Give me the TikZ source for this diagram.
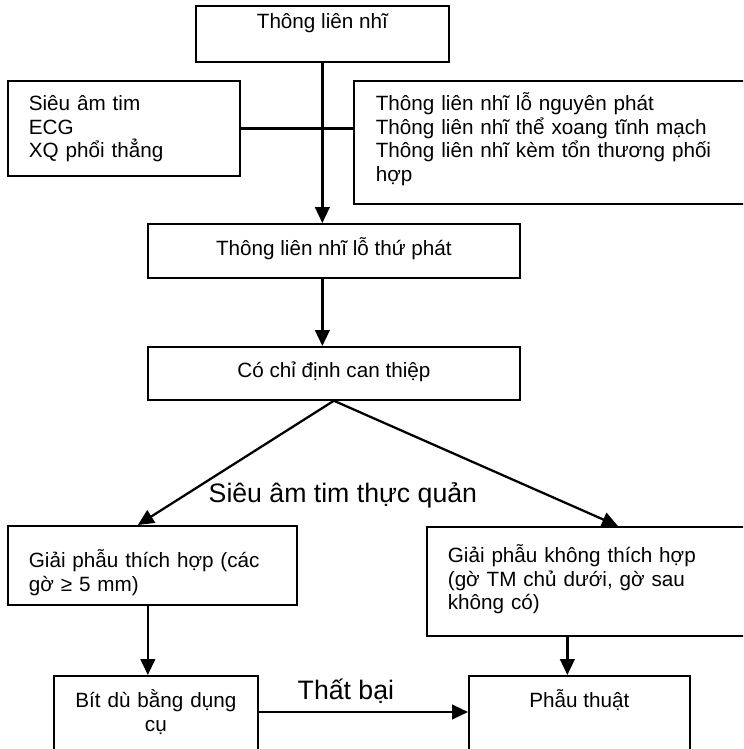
\documentclass[tikz,border=0pt]{standalone}
\usepackage{fontspec}
\setmainfont{Liberation Sans}
\usetikzlibrary{arrows.meta}

\begin{document}
\begin{tikzpicture}[
        x=0.75pt, y=-0.75pt,
        box/.style={draw, line width=1.3pt, inner sep=0pt, anchor=north west,
                    font=\fontsize{15.5}{17.6}\selectfont},
        lbox/.style={box, align=left, inner xsep=16pt, text width=#1},
        cbox/.style={box, align=center, minimum width=#1},
        conn/.style={line width=1.7pt},
        arr/.style={conn, -{Triangle[length=12pt, width=11pt]}},
        tag/.style={anchor=base west, font=\fontsize{20}{24}\selectfont}
    ]
    \useasboundingbox (0,0) rectangle (743,749);
    \clip (0,0) rectangle (743,749);

    \node[cbox=189.75pt, text height=17.25pt, text depth=24.75pt]
        (asd) at (195,5) {Thông liên nhĩ};
    \node[lbox=142.5pt, inner xsep=15.75pt, text height=22.5pt, text depth=48.75pt]
        (exam) at (7,80) {Siêu âm tim\\ECG\\XQ phổi thẳng};
    \node[lbox=282pt, inner xsep=16.5pt, text height=22.5pt, text depth=69.75pt]
        (excl) at (353,80) {Thông liên nhĩ lỗ nguyên phát\\
            Thông liên nhĩ thể xoang tĩnh mạch\\
            Thông liên nhĩ kèm tổn thương phối\\hợp};
    \node[cbox=279pt, text height=24pt, text depth=16.5pt]
        (secundum) at (147,223) {Thông liên nhĩ lỗ thứ phát};
    \node[cbox=279pt, text height=23.25pt, text depth=16.5pt]
        (indic) at (147,346) {Có chỉ định can thiệp};
    \node[lbox=185.25pt, inner xsep=15.75pt, text height=31.5pt, text depth=27.75pt]
        (suitable) at (7,525) {Giải phẫu thích hợp (các\\gờ ≥ 5 mm)};
    \node[lbox=247.5pt, inner xsep=15.75pt, text height=27pt, text depth=54.75pt]
        (unsuitable) at (426,526) {Giải phẫu không thích hợp\\
            (gờ TM chủ dưới, gờ sau\\không có)};
    \node[box, align=center, text width=153pt, text height=24pt, text depth=71.25pt]
        (device) at (53,675) {Bít dù bằng dụng\\cụ};
    \node[cbox=165.75pt, text height=24pt, text depth=71.25pt]
        (surgery) at (468,675) {Phẫu thuật};

    \draw[arr] (asd.south) -- (asd.south |- secundum.north);
    \draw[conn] (exam.east) -- (exam.east -| excl.west);
    \draw[arr] (secundum.south -| asd.south) -- (indic.north -| asd.south);

    \draw[arr] (indic.south) -- ([xshift=-10.9pt]suitable.north);
    \draw[arr] (indic.south) -- ([xshift=144pt]unsuitable.north west);
    \node[tag] (tee) at (204,502) {Siêu âm tim thực quản};

    \coordinate (sdrop) at ([xshift=-3.4pt]suitable.south);
    \draw[arr] (sdrop) -- (sdrop |- device.north);
    \coordinate (udrop) at ([xshift=-9pt]surgery.north);
    \draw[arr] (udrop |- unsuitable.south) -- (udrop);

    \coordinate (failout) at ([yshift=-27.75pt]device.north east);
    \draw[arr] (failout) -- (failout -| surgery.west);
    \node[tag] (failed) at (293,699) {Thất bại};
\end{tikzpicture}
\end{document}
